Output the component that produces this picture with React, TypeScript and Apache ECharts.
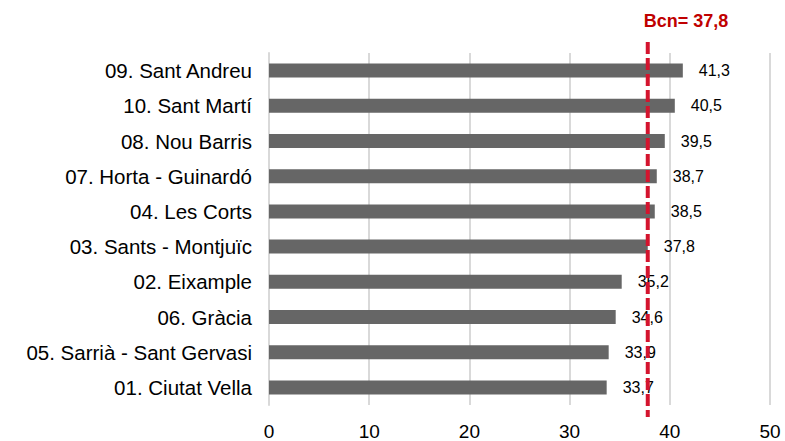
import React, { useEffect, useRef } from "react";
import * as echarts from "echarts";

const categories = [
  "01. Ciutat Vella",
  "05. Sarrià - Sant Gervasi",
  "06. Gràcia",
  "02. Eixample",
  "03. Sants - Montjuïc",
  "04. Les Corts",
  "07. Horta - Guinardó",
  "08. Nou Barris",
  "10. Sant Martí",
  "09. Sant Andreu",
];
const values = [33.7, 33.9, 34.6, 35.2, 37.8, 38.5, 38.7, 39.5, 40.5, 41.3];
const bcnValue = 37.8;
const bcnLabel = "Bcn= 37,8";

const FONT = "'Liberation Sans', Arial, sans-serif";
const fmt = (v: number) => v.toFixed(1).replace(".", ",");

export default function App() {
  const ref = useRef<HTMLDivElement>(null);
  useEffect(() => {
    if (!ref.current) return;
    const chart = echarts.init(ref.current, null, { renderer: "svg" });
    chart.setOption({
      animation: false,
      backgroundColor: "#ffffff",
      grid: { left: 269, right: 15, top: 53, bottom: 36, containLabel: false },
      xAxis: {
        type: "value",
        min: 0,
        max: 50,
        interval: 10,
        axisLine: { show: false },
        axisTick: { show: false },
        axisLabel: { fontFamily: FONT, fontSize: 19, color: "#000", margin: 17 },
        splitLine: { lineStyle: { color: "#d9d9d9", width: 2 } },
      },
      yAxis: {
        type: "category",
        data: categories,
        axisLine: { show: true, lineStyle: { color: "#d9d9d9", width: 2 } },
        axisTick: { show: false },
        axisLabel: { fontFamily: FONT, fontSize: 20.5, color: "#000", margin: 17 },
      },
      series: [
        {
          type: "bar",
          data: values,
          barWidth: 14,
          itemStyle: { color: "#666666" },
          label: {
            show: true,
            position: "right",
            distance: 16,
            fontFamily: FONT,
            fontSize: 16,
            color: "#000",
            formatter: (p: any) => fmt(p.value),
          },
          z: 2,
        },
      ],
    });
    const x = chart.convertToPixel({ xAxisIndex: 0 }, bcnValue) as number;
    chart.setOption({
      graphic: [
        {
          type: "line",
          z: 100,
          shape: { x1: x, y1: 42, x2: x, y2: 417 },
          style: { stroke: "#d4142e", lineWidth: 4, lineDash: [12, 4] },
        },
        {
          type: "text",
          z: 100,
          x: x - 4,
          y: 21,
          style: {
            text: bcnLabel,
            fill: "#c00000",
            font: `bold 18px ${FONT}`,
            textAlign: "left",
            textVerticalAlign: "middle",
          },
        },
      ],
    });
    return () => chart.dispose();
  }, []);
  return <div ref={ref} style={{ width: 785, height: 441, position: "absolute", left: 0, top: 0 }} />;
}
